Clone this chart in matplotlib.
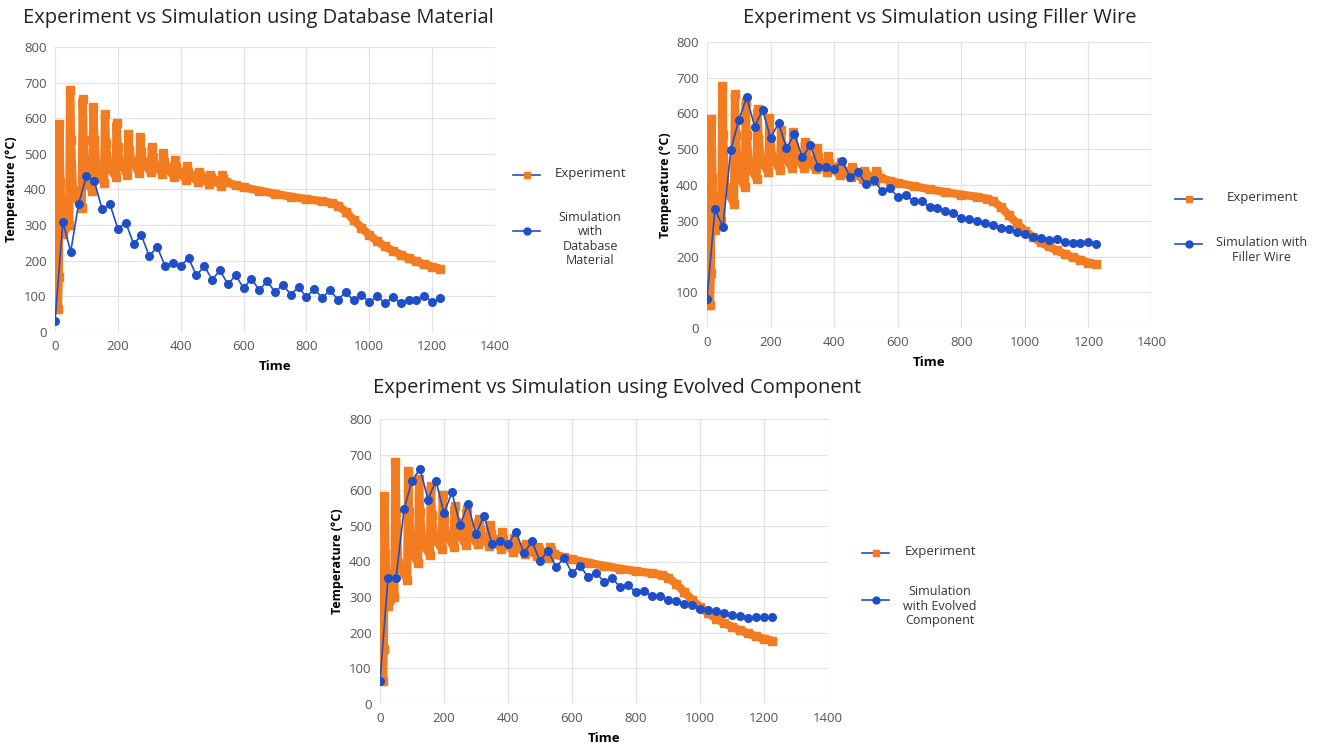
import matplotlib.pyplot as plt
from matplotlib.lines import Line2D

W, H = 1319, 748

# experiment curve (same in all three charts), vertices
exp_time = [0, 9, 12, 14, 17, 24, 45, 48, 51, 57, 85,
            88, 91, 97, 119, 122, 125, 132, 156, 159, 162, 169, 193,
            196, 199, 206, 230, 233, 236, 243, 268, 271, 274, 281, 305,
            308, 311, 318, 342, 345, 348, 355, 379, 382, 385, 392, 417,
            420, 423, 430, 454, 457, 460, 467, 491, 494, 497, 504, 529,
            532, 535, 545, 575, 600, 650, 700, 750, 800, 850, 880, 900,
            925, 950, 975, 1000, 1025, 1050, 1075, 1100, 1125, 1150, 1175,
            1200, 1225]
exp_temp = [65, 65, 155, 585, 420, 275, 300, 678, 540, 395, 348,
            655, 540, 430, 395, 632, 540, 455, 418, 612, 530, 470, 435,
            588, 520, 475, 442, 555, 510, 480, 447, 547, 505, 478, 448,
            520, 490, 470, 444, 503, 478, 462, 436, 482, 462, 450, 428,
            465, 450, 440, 422, 450, 440, 432, 416, 440, 432, 426, 411,
            440, 430, 420, 412, 406, 397, 388, 380, 373, 367, 362, 355,
            338, 315, 293, 272, 255, 240, 228, 217, 207, 198, 190,
            183, 178]

sim_time = list(range(0, 1250, 25))
sim_database = [30, 309, 225, 360, 437, 424, 344, 358, 290, 307,
                248, 271, 213, 239, 186, 194, 186, 207, 159, 185,
                147, 173, 134, 159, 123, 150, 117, 143, 112, 133,
                105, 126, 98, 121, 96, 117, 91, 111, 89, 105,
                84, 101, 81, 98, 81, 91, 91, 101, 84, 96]
sim_filler = [82, 332, 283, 498, 582, 645, 563, 610, 531, 573,
              503, 542, 477, 511, 451, 451, 444, 467, 423, 436,
              403, 414, 383, 391, 367, 373, 354, 354, 339, 337,
              327, 322, 309, 306, 299, 293, 287, 281, 277, 269,
              264, 255, 253, 246, 248, 240, 238, 239, 241, 235]
sim_evolved = [65, 353, 353, 546, 627, 660, 574, 627, 535, 594,
               502, 561, 476, 529, 448, 457, 448, 484, 423, 457,
               401, 430, 385, 409, 369, 388, 357, 369, 343, 353,
               329, 334, 313, 317, 304, 304, 292, 289, 281, 278,
               268, 264, 261, 256, 250, 248, 242, 245, 245, 243]

titles = ["Experiment vs Simulation using Database Material",
          "Experiment vs Simulation using Filler Wire",
          "Experiment vs Simulation using Evolved Component"]
sim_labels = ["Simulation\nwith\nDatabase\nMaterial",
              "Simulation with\nFiller Wire",
              "Simulation\nwith Evolved\nComponent"]

ORANGE = '#f47c20'
BLUE = '#1f4fc8'
plt.rcParams['font.family'] = ['Open Sans', 'DejaVu Sans']

fig = plt.figure(figsize=(W / 100, H / 100), dpi=100)


def fx(x):
    return x / W


def fy(y):
    return 1 - y / H


# axes boxes in pixels: left, top, right, bottom
boxes = [(55, 47, 495, 332), (707, 42, 1152, 328), (380, 419, 828, 704)]
title_pos = [(258, 18), (940, 18), (617, 388)]
ylabel_x = [12, 665, 338]
# legend: sample x start, y exp, y sim, text centre x
legend_pos = [(513, 175, 231, 590), (1175, 199, 244, 1262), (862, 553, 600, 940)]
sims = [sim_database, sim_filler, sim_evolved]

for i in range(3):
    l, t, r, b = boxes[i]
    ax = fig.add_axes([fx(l), fy(b), (r - l) / W, (b - t) / H])
    ax.plot(exp_time, exp_temp, color=ORANGE, lw=6, solid_joinstyle='bevel',
            solid_capstyle='butt', marker='s', ms=6, mec=ORANGE, zorder=2)
    ax.plot(sim_time, sims[i], color=BLUE, lw=1.2, marker='o', ms=5.5, zorder=3)
    ax.set_xlim(0, 1400)
    ax.set_ylim(0, 800)
    ax.set_xticks(range(0, 1401, 200))
    ax.set_yticks(range(0, 801, 100))
    ax.grid(True, color='#e3e3e3', lw=0.9)
    ax.set_axisbelow(True)
    for s in ax.spines.values():
        s.set_visible(False)
    ax.tick_params(length=0, labelsize=9.5, labelcolor='#555555', pad=6)
    ax.set_xlabel('Time', fontsize=9.5, fontweight='bold', labelpad=5)
    fig.text(fx(ylabel_x[i]), fy((t + b) / 2), 'Temperature (°C)', rotation=90,
             ha='center', va='center', fontsize=9, fontweight='bold')
    fig.text(fx(title_pos[i][0]), fy(title_pos[i][1]), titles[i], ha='center',
             va='center', fontsize=14.5, color='#222222')

    sx, ye, ys, tx = legend_pos[i]
    fig.add_artist(Line2D([fx(sx), fx(sx + 27)], [fy(ye), fy(ye)], color=BLUE,
                          lw=1.2, transform=fig.transFigure))
    fig.add_artist(Line2D([fx(sx + 13.5)], [fy(ye)], color=ORANGE, marker='s',
                          ms=5, lw=0, transform=fig.transFigure))
    fig.add_artist(Line2D([fx(sx), fx(sx + 27)], [fy(ys), fy(ys)], color=BLUE,
                          lw=1.2, transform=fig.transFigure))
    fig.add_artist(Line2D([fx(sx + 13.5)], [fy(ys)], color=BLUE, marker='o',
                          ms=5, lw=0, transform=fig.transFigure))
    fig.text(fx(tx), fy(ye - 2), 'Experiment', ha='center', va='center',
             fontsize=9.5, color='#333333')
    fig.text(fx(tx), fy(ys + (8 if i == 0 else 6)), sim_labels[i], ha='center',
             va='center', fontsize=9, color='#333333', multialignment='center',
             linespacing=1.15)

fig.savefig('out.png', dpi=100, facecolor='white')
